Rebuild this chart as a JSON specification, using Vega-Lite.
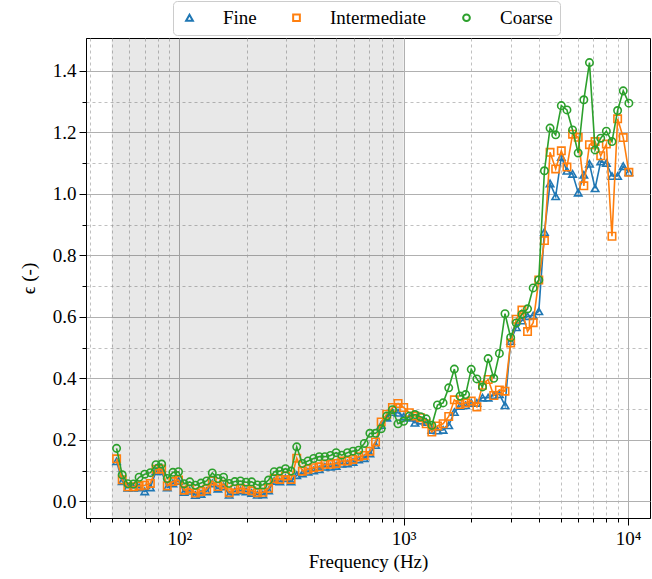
{
"$schema": "https://vega.github.io/schema/vega-lite/v6.json",
"width": 564, "height": 480,
"autosize": {"type": "none"},
"padding": {"left": 86, "top": 38, "right": 2, "bottom": 61},
"background": "white",
"config": {"view": {"stroke": "#000", "strokeWidth": 1}, "font": "'Liberation Serif', 'DejaVu Serif', serif"},
"datasets": {
"band": [{"a": 50, "b": 1000}],
"pts": [
{"f":52.56,"s":"Fine","e":0.130},{"f":52.56,"s":"Intermediate","e":0.138},{"f":52.56,"s":"Coarse","e":0.172},
{"f":55.68,"s":"Fine","e":0.065},{"f":55.68,"s":"Intermediate","e":0.070},{"f":55.68,"s":"Coarse","e":0.086},
{"f":58.99,"s":"Fine","e":0.044},{"f":58.99,"s":"Intermediate","e":0.047},{"f":58.99,"s":"Coarse","e":0.057},
{"f":62.5,"s":"Fine","e":0.044},{"f":62.5,"s":"Intermediate","e":0.047},{"f":62.5,"s":"Coarse","e":0.056},
{"f":66.22,"s":"Fine","e":0.045},{"f":66.22,"s":"Intermediate","e":0.050},{"f":66.22,"s":"Coarse","e":0.078},
{"f":70.15,"s":"Fine","e":0.032},{"f":70.15,"s":"Intermediate","e":0.052},{"f":70.15,"s":"Coarse","e":0.088},
{"f":74.33,"s":"Fine","e":0.045},{"f":74.33,"s":"Intermediate","e":0.058},{"f":74.33,"s":"Coarse","e":0.093},
{"f":78.75,"s":"Fine","e":0.098},{"f":78.75,"s":"Intermediate","e":0.104},{"f":78.75,"s":"Coarse","e":0.119},
{"f":83.43,"s":"Fine","e":0.098},{"f":83.43,"s":"Intermediate","e":0.105},{"f":83.43,"s":"Coarse","e":0.121},
{"f":88.39,"s":"Fine","e":0.045},{"f":88.39,"s":"Intermediate","e":0.050},{"f":88.39,"s":"Coarse","e":0.074},
{"f":93.65,"s":"Fine","e":0.058},{"f":93.65,"s":"Intermediate","e":0.064},{"f":93.65,"s":"Coarse","e":0.094},
{"f":99.21,"s":"Fine","e":0.066},{"f":99.21,"s":"Intermediate","e":0.069},{"f":99.21,"s":"Coarse","e":0.096},
{"f":105.11,"s":"Fine","e":0.030},{"f":105.11,"s":"Intermediate","e":0.036},{"f":105.11,"s":"Coarse","e":0.057},
{"f":111.36,"s":"Fine","e":0.034},{"f":111.36,"s":"Intermediate","e":0.041},{"f":111.36,"s":"Coarse","e":0.063},
{"f":117.98,"s":"Fine","e":0.020},{"f":117.98,"s":"Intermediate","e":0.027},{"f":117.98,"s":"Coarse","e":0.052},
{"f":125,"s":"Fine","e":0.024},{"f":125,"s":"Intermediate","e":0.032},{"f":125,"s":"Coarse","e":0.059},
{"f":132.43,"s":"Fine","e":0.032},{"f":132.43,"s":"Intermediate","e":0.039},{"f":132.43,"s":"Coarse","e":0.066},
{"f":140.31,"s":"Fine","e":0.058},{"f":140.31,"s":"Intermediate","e":0.066},{"f":140.31,"s":"Coarse","e":0.092},
{"f":148.65,"s":"Fine","e":0.041},{"f":148.65,"s":"Intermediate","e":0.048},{"f":148.65,"s":"Coarse","e":0.074},
{"f":157.49,"s":"Fine","e":0.048},{"f":157.49,"s":"Intermediate","e":0.055},{"f":157.49,"s":"Coarse","e":0.078},
{"f":166.86,"s":"Fine","e":0.021},{"f":166.86,"s":"Intermediate","e":0.028},{"f":166.86,"s":"Coarse","e":0.058},
{"f":176.78,"s":"Fine","e":0.032},{"f":176.78,"s":"Intermediate","e":0.039},{"f":176.78,"s":"Coarse","e":0.064},
{"f":187.29,"s":"Fine","e":0.035},{"f":187.29,"s":"Intermediate","e":0.042},{"f":187.29,"s":"Coarse","e":0.066},
{"f":198.43,"s":"Fine","e":0.032},{"f":198.43,"s":"Intermediate","e":0.039},{"f":198.43,"s":"Coarse","e":0.062},
{"f":210.22,"s":"Fine","e":0.027},{"f":210.22,"s":"Intermediate","e":0.034},{"f":210.22,"s":"Coarse","e":0.063},
{"f":222.72,"s":"Fine","e":0.021},{"f":222.72,"s":"Intermediate","e":0.028},{"f":222.72,"s":"Coarse","e":0.053},
{"f":235.97,"s":"Fine","e":0.022},{"f":235.97,"s":"Intermediate","e":0.029},{"f":235.97,"s":"Coarse","e":0.053},
{"f":250,"s":"Fine","e":0.035},{"f":250,"s":"Intermediate","e":0.042},{"f":250,"s":"Coarse","e":0.069},
{"f":264.87,"s":"Fine","e":0.066},{"f":264.87,"s":"Intermediate","e":0.074},{"f":264.87,"s":"Coarse","e":0.096},
{"f":280.62,"s":"Fine","e":0.064},{"f":280.62,"s":"Intermediate","e":0.071},{"f":280.62,"s":"Coarse","e":0.098},
{"f":297.3,"s":"Fine","e":0.075},{"f":297.3,"s":"Intermediate","e":0.082},{"f":297.3,"s":"Coarse","e":0.106},
{"f":314.98,"s":"Fine","e":0.064},{"f":314.98,"s":"Intermediate","e":0.071},{"f":314.98,"s":"Coarse","e":0.098},
{"f":333.71,"s":"Fine","e":0.085},{"f":333.71,"s":"Intermediate","e":0.140},{"f":333.71,"s":"Coarse","e":0.177},
{"f":353.55,"s":"Fine","e":0.090},{"f":353.55,"s":"Intermediate","e":0.098},{"f":353.55,"s":"Coarse","e":0.123},
{"f":374.58,"s":"Fine","e":0.096},{"f":374.58,"s":"Intermediate","e":0.104},{"f":374.58,"s":"Coarse","e":0.131},
{"f":396.85,"s":"Fine","e":0.100},{"f":396.85,"s":"Intermediate","e":0.109},{"f":396.85,"s":"Coarse","e":0.139},
{"f":420.45,"s":"Fine","e":0.104},{"f":420.45,"s":"Intermediate","e":0.112},{"f":420.45,"s":"Coarse","e":0.145},
{"f":445.45,"s":"Fine","e":0.112},{"f":445.45,"s":"Intermediate","e":0.120},{"f":445.45,"s":"Coarse","e":0.145},
{"f":471.94,"s":"Fine","e":0.112},{"f":471.94,"s":"Intermediate","e":0.120},{"f":471.94,"s":"Coarse","e":0.149},
{"f":500,"s":"Fine","e":0.115},{"f":500,"s":"Intermediate","e":0.123},{"f":500,"s":"Coarse","e":0.158},
{"f":529.73,"s":"Fine","e":0.122},{"f":529.73,"s":"Intermediate","e":0.131},{"f":529.73,"s":"Coarse","e":0.150},
{"f":561.23,"s":"Fine","e":0.123},{"f":561.23,"s":"Intermediate","e":0.131},{"f":561.23,"s":"Coarse","e":0.158},
{"f":594.6,"s":"Fine","e":0.128},{"f":594.6,"s":"Intermediate","e":0.136},{"f":594.6,"s":"Coarse","e":0.163},
{"f":629.96,"s":"Fine","e":0.136},{"f":629.96,"s":"Intermediate","e":0.145},{"f":629.96,"s":"Coarse","e":0.166},
{"f":667.42,"s":"Fine","e":0.140},{"f":667.42,"s":"Intermediate","e":0.149},{"f":667.42,"s":"Coarse","e":0.188},
{"f":707.11,"s":"Fine","e":0.155},{"f":707.11,"s":"Intermediate","e":0.163},{"f":707.11,"s":"Coarse","e":0.221},
{"f":749.15,"s":"Fine","e":0.183},{"f":749.15,"s":"Intermediate","e":0.193},{"f":749.15,"s":"Coarse","e":0.221},
{"f":793.7,"s":"Fine","e":0.248},{"f":793.7,"s":"Intermediate","e":0.258},{"f":793.7,"s":"Coarse","e":0.236},
{"f":840.9,"s":"Fine","e":0.272},{"f":840.9,"s":"Intermediate","e":0.283},{"f":840.9,"s":"Coarse","e":0.277},
{"f":890.9,"s":"Fine","e":0.290},{"f":890.9,"s":"Intermediate","e":0.305},{"f":890.9,"s":"Coarse","e":0.298},
{"f":943.87,"s":"Fine","e":0.288},{"f":943.87,"s":"Intermediate","e":0.318},{"f":943.87,"s":"Coarse","e":0.252},
{"f":1000,"s":"Fine","e":0.275},{"f":1000,"s":"Intermediate","e":0.305},{"f":1000,"s":"Coarse","e":0.260},
{"f":1059.46,"s":"Fine","e":0.272},{"f":1059.46,"s":"Intermediate","e":0.288},{"f":1059.46,"s":"Coarse","e":0.277},
{"f":1122.46,"s":"Fine","e":0.255},{"f":1122.46,"s":"Intermediate","e":0.277},{"f":1122.46,"s":"Coarse","e":0.282},
{"f":1189.21,"s":"Fine","e":0.262},{"f":1189.21,"s":"Intermediate","e":0.272},{"f":1189.21,"s":"Coarse","e":0.275},
{"f":1259.92,"s":"Fine","e":0.258},{"f":1259.92,"s":"Intermediate","e":0.252},{"f":1259.92,"s":"Coarse","e":0.268},
{"f":1334.84,"s":"Fine","e":0.232},{"f":1334.84,"s":"Intermediate","e":0.225},{"f":1334.84,"s":"Coarse","e":0.247},
{"f":1414.21,"s":"Fine","e":0.230},{"f":1414.21,"s":"Intermediate","e":0.245},{"f":1414.21,"s":"Coarse","e":0.313},
{"f":1498.31,"s":"Fine","e":0.232},{"f":1498.31,"s":"Intermediate","e":0.252},{"f":1498.31,"s":"Coarse","e":0.320},
{"f":1587.4,"s":"Fine","e":0.247},{"f":1587.4,"s":"Intermediate","e":0.276},{"f":1587.4,"s":"Coarse","e":0.369},
{"f":1681.79,"s":"Fine","e":0.290},{"f":1681.79,"s":"Intermediate","e":0.330},{"f":1681.79,"s":"Coarse","e":0.430},
{"f":1781.8,"s":"Fine","e":0.310},{"f":1781.8,"s":"Intermediate","e":0.315},{"f":1781.8,"s":"Coarse","e":0.342},
{"f":1887.75,"s":"Fine","e":0.312},{"f":1887.75,"s":"Intermediate","e":0.320},{"f":1887.75,"s":"Coarse","e":0.347},
{"f":2000,"s":"Fine","e":0.320},{"f":2000,"s":"Intermediate","e":0.326},{"f":2000,"s":"Coarse","e":0.429},
{"f":2118.93,"s":"Fine","e":0.320},{"f":2118.93,"s":"Intermediate","e":0.307},{"f":2118.93,"s":"Coarse","e":0.398},
{"f":2244.92,"s":"Fine","e":0.337},{"f":2244.92,"s":"Intermediate","e":0.377},{"f":2244.92,"s":"Coarse","e":0.372},
{"f":2378.41,"s":"Fine","e":0.337},{"f":2378.41,"s":"Intermediate","e":0.396},{"f":2378.41,"s":"Coarse","e":0.464},
{"f":2519.84,"s":"Fine","e":0.345},{"f":2519.84,"s":"Intermediate","e":0.344},{"f":2519.84,"s":"Coarse","e":0.400},
{"f":2669.68,"s":"Fine","e":0.348},{"f":2669.68,"s":"Intermediate","e":0.362},{"f":2669.68,"s":"Coarse","e":0.481},
{"f":2828.43,"s":"Fine","e":0.312},{"f":2828.43,"s":"Intermediate","e":0.358},{"f":2828.43,"s":"Coarse","e":0.610},
{"f":2996.61,"s":"Fine","e":0.521},{"f":2996.61,"s":"Intermediate","e":0.515},{"f":2996.61,"s":"Coarse","e":0.533},
{"f":3174.8,"s":"Fine","e":0.566},{"f":3174.8,"s":"Intermediate","e":0.592},{"f":3174.8,"s":"Coarse","e":0.580},
{"f":3363.59,"s":"Fine","e":0.588},{"f":3363.59,"s":"Intermediate","e":0.622},{"f":3363.59,"s":"Coarse","e":0.608},
{"f":3563.59,"s":"Fine","e":0.602},{"f":3563.59,"s":"Intermediate","e":0.552},{"f":3563.59,"s":"Coarse","e":0.626},
{"f":3775.5,"s":"Fine","e":0.604},{"f":3775.5,"s":"Intermediate","e":0.581},{"f":3775.5,"s":"Coarse","e":0.694},
{"f":4000,"s":"Fine","e":0.618},{"f":4000,"s":"Intermediate","e":0.720},{"f":4000,"s":"Coarse","e":0.720},
{"f":4237.85,"s":"Fine","e":0.876},{"f":4237.85,"s":"Intermediate","e":0.848},{"f":4237.85,"s":"Coarse","e":1.075},
{"f":4489.85,"s":"Fine","e":1.034},{"f":4489.85,"s":"Intermediate","e":1.135},{"f":4489.85,"s":"Coarse","e":1.214},
{"f":4756.83,"s":"Fine","e":0.992},{"f":4756.83,"s":"Intermediate","e":1.081},{"f":4756.83,"s":"Coarse","e":1.192},
{"f":5039.68,"s":"Fine","e":1.120},{"f":5039.68,"s":"Intermediate","e":1.140},{"f":5039.68,"s":"Coarse","e":1.287},
{"f":5339.36,"s":"Fine","e":1.075},{"f":5339.36,"s":"Intermediate","e":1.087},{"f":5339.36,"s":"Coarse","e":1.273},
{"f":5656.85,"s":"Fine","e":1.065},{"f":5656.85,"s":"Intermediate","e":1.194},{"f":5656.85,"s":"Coarse","e":1.208},
{"f":5993.23,"s":"Fine","e":1.004},{"f":5993.23,"s":"Intermediate","e":1.184},{"f":5993.23,"s":"Coarse","e":1.133},
{"f":6349.6,"s":"Fine","e":1.062},{"f":6349.6,"s":"Intermediate","e":1.026},{"f":6349.6,"s":"Coarse","e":1.306},
{"f":6727.17,"s":"Fine","e":1.098},{"f":6727.17,"s":"Intermediate","e":1.160},{"f":6727.17,"s":"Coarse","e":1.427},
{"f":7127.19,"s":"Fine","e":1.018},{"f":7127.19,"s":"Intermediate","e":1.170},{"f":7127.19,"s":"Coarse","e":1.143},
{"f":7551,"s":"Fine","e":1.105},{"f":7551,"s":"Intermediate","e":1.124},{"f":7551,"s":"Coarse","e":1.181},
{"f":8000,"s":"Fine","e":1.100},{"f":8000,"s":"Intermediate","e":1.162},{"f":8000,"s":"Coarse","e":1.204},
{"f":8475.7,"s":"Fine","e":1.058},{"f":8475.7,"s":"Intermediate","e":0.862},{"f":8475.7,"s":"Coarse","e":1.170},
{"f":8979.7,"s":"Fine","e":1.058},{"f":8979.7,"s":"Intermediate","e":1.244},{"f":8979.7,"s":"Coarse","e":1.271},
{"f":9513.66,"s":"Fine","e":1.090},{"f":9513.66,"s":"Intermediate","e":1.183},{"f":9513.66,"s":"Coarse","e":1.335},
{"f":10079.37,"s":"Fine","e":1.070},{"f":10079.37,"s":"Intermediate","e":1.070},{"f":10079.37,"s":"Coarse","e":1.295}
]
},
"layer": [
{
"data": {"name": "band"},
"mark": {"type": "rect", "fill": "#000", "opacity": 0.09},
"encoding": {
"x": {"field": "a", "type": "quantitative", "scale": {"type": "log", "domain": [38.4, 12520], "nice": false},
 "title": "Frequency (Hz)",
 "axis": {
  "values": [40,50,60,70,80,90,100,200,300,400,500,600,700,800,900,1000,2000,3000,4000,5000,6000,7000,8000,9000,10000],
  "labelExpr": "datum.value==100?'10²':datum.value==1000?'10³':datum.value==10000?'10⁴':''",
  "grid": true, "gridColor": "#b0b0b0",
  "gridDash": {"condition": {"test": "datum.value==100||datum.value==1000||datum.value==10000", "value": []}, "value": [3, 3]},
  "gridWidth": {"condition": {"test": "datum.value==100||datum.value==1000||datum.value==10000", "value": 1}, "value": 0.8},
  "tickSize": {"condition": {"test": "datum.value==100||datum.value==1000||datum.value==10000", "value": 7}, "value": 4},
  "tickColor": "#000", "domainColor": "#000", "domain": true,
  "labelFont": "'Liberation Serif', 'DejaVu Serif', serif", "labelFontSize": 19, "labelColor": "#000", "labelPadding": 4,
  "labelOverlap": false, "labelFlush": false,
  "titleFont": "'Liberation Serif', 'DejaVu Serif', serif", "titleFontSize": 19, "titleFontWeight": "normal", "titleColor": "#000", "titlePadding": 4
 }},
"x2": {"field": "b"}
}
},
{
"data": {"name": "pts"},
"encoding": {
"x": {"field": "f", "type": "quantitative", "scale": {"type": "log", "domain": [38.4, 12520], "nice": false}},
"y": {"field": "e", "type": "quantitative", "scale": {"domain": [-0.0545, 1.507], "nice": false, "zero": false},
 "title": "ϵ (-)",
 "axis": {
  "values": [0,0.1,0.2,0.3,0.4,0.5,0.6,0.7,0.8,0.9,1.0,1.1,1.2,1.3,1.4],
  "labelExpr": "round(datum.value*10)%2==0 ? format(datum.value,'.1f') : ''",
  "grid": true, "gridColor": "#b0b0b0",
  "gridDash": {"condition": {"test": "round(datum.value*10)%2==0", "value": []}, "value": [3, 3]},
  "gridWidth": {"condition": {"test": "round(datum.value*10)%2==0", "value": 1}, "value": 0.8},
  "tickSize": {"condition": {"test": "round(datum.value*10)%2==0", "value": 7}, "value": 4},
  "tickColor": "#000", "domainColor": "#000",
  "labelFont": "'Liberation Serif', 'DejaVu Serif', serif", "labelFontSize": 19, "labelColor": "#000", "labelPadding": 3,
  "labelOverlap": false, "labelFlush": false,
  "titleFont": "'Liberation Serif', 'DejaVu Serif', serif", "titleFontSize": 19, "titleFontWeight": "normal", "titleColor": "#000", "titlePadding": 14
 }}
},
"layer": [
{"transform": [{"filter": "datum.s=='Fine'"}], "mark": {"type": "line", "color": "#1f77b4", "strokeWidth": 1.6}},
{"transform": [{"filter": "datum.s=='Fine'"}], "mark": {"type": "point", "filled": false, "size": 55, "strokeWidth": 1.6, "opacity": 1},
 "encoding": {
 "color": {"field": "s", "type": "nominal", "scale": {"domain": ["Fine","Intermediate","Coarse"], "range": ["#1f77b4","#ff7f0e","#2ca02c"]},
  "legend": {"title": null, "orient": "none", "legendX": 87, "legendY": -37, "direction": "horizontal",
   "symbolSize": 45, "symbolStrokeWidth": 2, "labelFont": "'Liberation Serif', 'DejaVu Serif', serif", "labelFontSize": 19, "labelColor": "#000",
   "labelOffset": 24, "columnPadding": 30, "padding": 7, "strokeColor": "#cccccc", "cornerRadius": 4, "fillColor": "white"}},
 "shape": {"field": "s", "type": "nominal", "scale": {"domain": ["Fine","Intermediate","Coarse"], "range": ["triangle-up","square","circle"]}}
 }},
{"transform": [{"filter": "datum.s=='Intermediate'"}], "mark": {"type": "line", "color": "#ff7f0e", "strokeWidth": 1.6}},
{"transform": [{"filter": "datum.s=='Intermediate'"}], "mark": {"type": "point", "filled": false, "size": 55, "strokeWidth": 1.6, "opacity": 1},
 "encoding": {
 "color": {"field": "s", "type": "nominal", "scale": {"domain": ["Fine","Intermediate","Coarse"], "range": ["#1f77b4","#ff7f0e","#2ca02c"]}},
 "shape": {"field": "s", "type": "nominal", "scale": {"domain": ["Fine","Intermediate","Coarse"], "range": ["triangle-up","square","circle"]}}
 }},
{"transform": [{"filter": "datum.s=='Coarse'"}], "mark": {"type": "line", "color": "#2ca02c", "strokeWidth": 1.6}},
{"transform": [{"filter": "datum.s=='Coarse'"}], "mark": {"type": "point", "filled": false, "size": 55, "strokeWidth": 1.6, "opacity": 1},
 "encoding": {
 "color": {"field": "s", "type": "nominal", "scale": {"domain": ["Fine","Intermediate","Coarse"], "range": ["#1f77b4","#ff7f0e","#2ca02c"]}},
 "shape": {"field": "s", "type": "nominal", "scale": {"domain": ["Fine","Intermediate","Coarse"], "range": ["triangle-up","square","circle"]}}
 }}
]
}
]
}
